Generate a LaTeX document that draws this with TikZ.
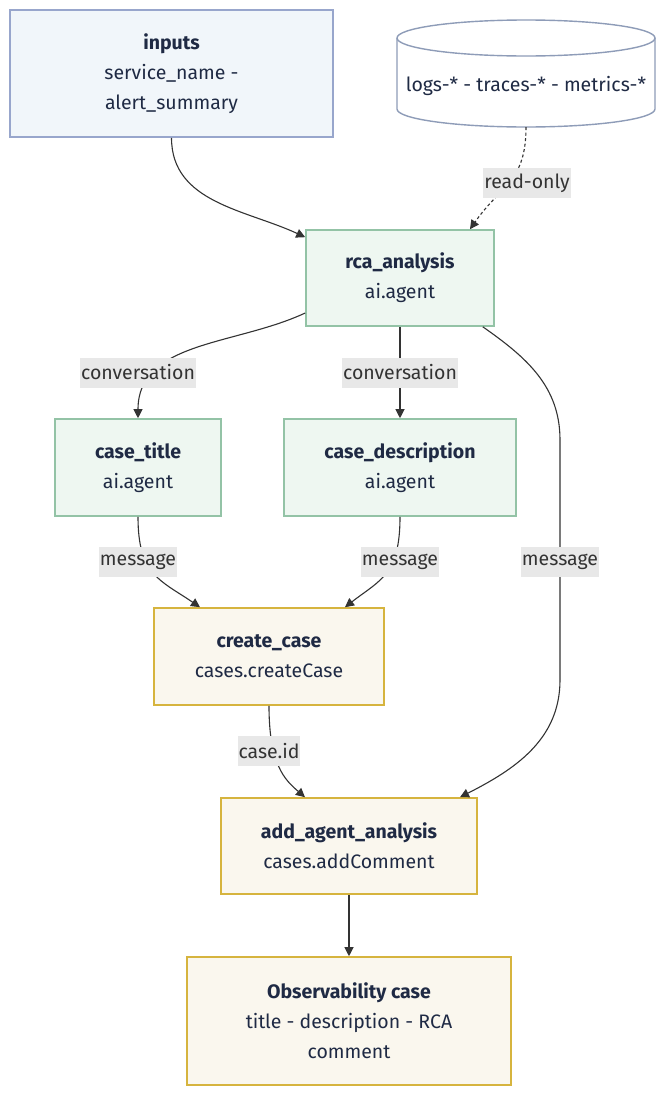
\documentclass[tikz,border=0pt]{standalone}
\usepackage{fontspec}
\setmainfont{Fira Sans}
\usetikzlibrary{arrows.meta}
\definecolor{navy}{HTML}{1F2A44}
\definecolor{edgegray}{HTML}{333333}
\begin{document}
\begin{tikzpicture}[x=1pt, y=1pt,
	box/.style={draw, line width=1.6pt, minimum height=97pt, align=center, text=navy,
		font=\fontsize{19.5}{30}\selectfont},
	inputbox/.style={box, fill={rgb,255:red,241;green,246;blue,250}, draw={rgb,255:red,152;green,166;blue,204}},
	agentbox/.style={box, fill={rgb,255:red,238;green,247;blue,241}, draw={rgb,255:red,147;green,195;blue,166}},
	casebox/.style={box, fill={rgb,255:red,250;green,247;blue,238}, draw={rgb,255:red,214;green,180;blue,62}},
	edge/.style={draw=edgegray, line width=1.1pt, -{Triangle[length=9pt, width=9pt]}},
	lbl/.style={fill={rgb,255:red,232;green,232;blue,232}, text=edgegray, inner xsep=1pt,
		minimum height=30pt, font=\fontsize{19.5}{20}\selectfont}]
	\fill[white] (0,0) rectangle (665,-1095);
	\useasboundingbox (0,0) rectangle (665,-1095);

	% data store
	\draw[line width=1.4pt, draw={rgb,255:red,142;green,156;blue,184}, fill=white]
		(397,-38) -- (397,-109) arc[start angle=180, end angle=360, x radius=129pt, y radius=18pt] -- (655,-38);
	\draw[line width=1.4pt, draw={rgb,255:red,142;green,156;blue,184}] (526,-38) ellipse[x radius=129pt, y radius=18pt];
	\node[minimum width=258pt, minimum height=82pt, text=navy, font=\fontsize{19.5}{30}\selectfont]
		(logs) at (526,-86) {logs-* - traces-* - metrics-*};

	\node[inputbox, minimum width=323pt, minimum height=127pt] (inputs) at (171.5,-73.5)
		{\textbf{inputs}\\service\_name -\\alert\_summary};
	\node[agentbox, minimum width=188pt, minimum height=96pt] (rca) at (400,-278)
		{\textbf{rca\_analysis}\\ai.agent};
	\node[agentbox, minimum width=166pt] (title) at (138,-467.5)
		{\textbf{case\_title}\\ai.agent};
	\node[agentbox, minimum width=232pt] (desc) at (400,-467.5)
		{\textbf{case\_description}\\ai.agent};
	\node[casebox, minimum width=230pt] (create) at (269,-656.5)
		{\textbf{create\_case}\\cases.createCase};
	\node[casebox, minimum width=256pt, minimum height=96pt] (addcomment) at (349,-846)
		{\textbf{add\_agent\_analysis}\\cases.addComment};
	\node[casebox, minimum width=324pt, minimum height=128pt] (obscase) at (349,-1021)
		{\textbf{Observability case}\\title - description - RCA\\comment};

	% bends of the long message edge
	\coordinate (bendtop) at (560,-440);
	\coordinate (bendbot) at (560,-680);

	\draw[edge] (inputs.south) to[out=-90, in=155] ([yshift=-8pt]rca.north west);
	\draw[edge, dash pattern=on 3pt off 2.5pt] (logs.south) to[out=-90, in=55, looseness=1.2] ([xshift=70pt]rca.north);
	\draw[edge] ([yshift=-35pt]rca.west) to[out=-155, in=90] (title.north);
	\draw[edge] (rca.south) -- (desc.north);
	\draw[edge] ([xshift=-12pt]rca.south east) to[out=-35, in=90] (bendtop) -- (bendbot)
		to[out=-90, in=27] ([xshift=111pt]addcomment.north);
	\draw[edge] (title.south) .. controls (138,-575) and (160,-580) .. ([xshift=-69pt]create.north);
	\draw[edge] (desc.south) .. controls (400,-575) and (380,-580) .. ([xshift=76pt]create.north);
	\draw[edge] (create.south) .. controls (269,-765) and (285,-780) .. ([xshift=-44pt]addcomment.north);
	\draw[edge] (addcomment.south) -- (obscase.north);

	% edge labels
	\node[lbl] (lblread) at (527,-183) {read-only};
	\node[lbl] (lblconvtitle) at (138,-372.5) {conversation};
	\node[lbl] (lblconvdesc) at (400,-372.5) {conversation};
	\node[lbl] (lblmsgtitle) at (138,-562) {message};
	\node[lbl] (lblmsgdesc) at (400,-562) {message};
	\node[lbl] (lblmsgrca) at (560,-562) {message};
	\node[lbl] (lblcaseid) at (269,-751) {case.id};
\end{tikzpicture}
\end{document}
